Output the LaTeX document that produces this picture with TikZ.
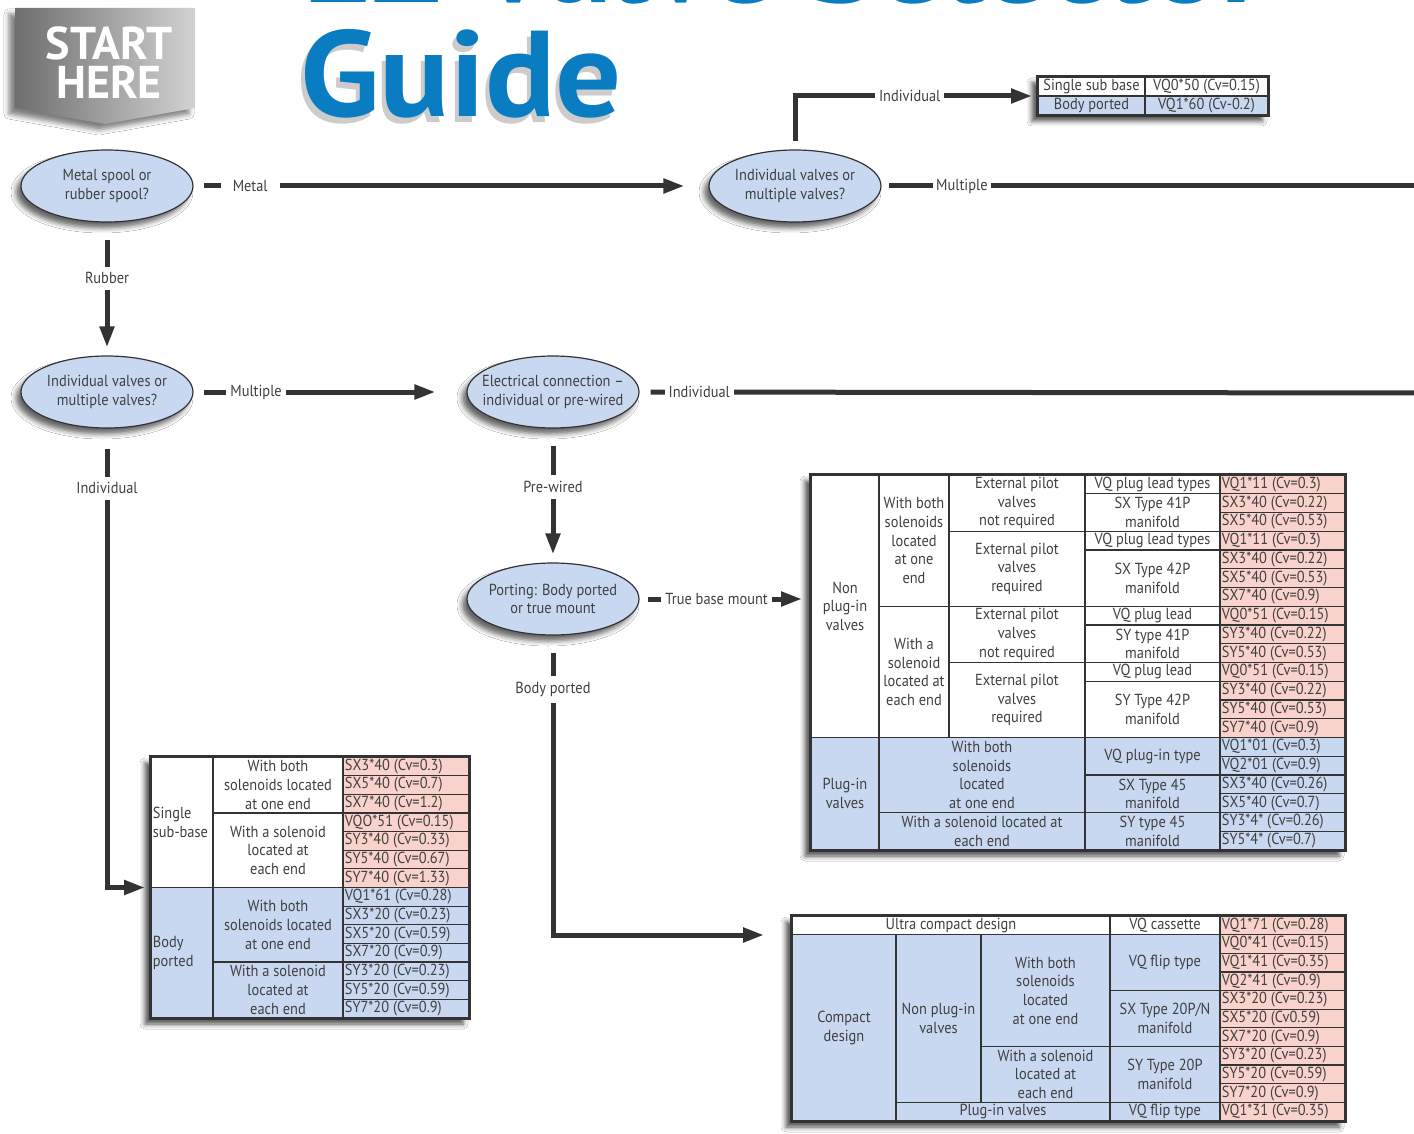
\documentclass[tikz,border=0pt]{standalone}
\usepackage{fontspec}
\setmainfont{PT Sans}[FakeStretch=0.9]
\newfontfamily\titlefont{PT Sans}[FakeStretch=1.07]
\newfontfamily\bannerfont{PT Sans}
\usetikzlibrary{shapes.geometric,shadows.blur,arrows.meta}
\definecolor{cblue}{HTML}{C8D8F0}
\definecolor{cpink}{HTML}{F9D3CB}
\definecolor{ink}{HTML}{333333}
\definecolor{txt}{HTML}{404040}
\definecolor{gblue}{HTML}{0A7CC2}
\definecolor{bnL}{HTML}{6E6E6E}
\definecolor{bnR}{HTML}{D2D2D2}
\newcommand{\tfont}{\fontsize{8}{9.35}\selectfont}
\newcounter{cellno}
\newcommand{\cellc}[6]{\stepcounter{cellno}\path[cellframe,fill=#5] (#1,#2) rectangle (#3,#4);\node[celltext] (cell\arabic{cellno}) at ({(#1+#3)/2},{(#2+#4)/2}) {#6};}
\newcommand{\celll}[6]{\stepcounter{cellno}\path[cellframe,fill=#5] (#1,#2) rectangle (#3,#4);\node[celltext,align=left,anchor=west] (cell\arabic{cellno}) at ({#1+1.5},{(#2+#4)/2}) {#6};}
\begin{document}
\begin{tikzpicture}[x=0.5pt,y=-0.5pt,
  line/.style={draw=ink,line width=2.5pt},
  arr/.style={line,-{Triangle[length=10.5pt,width=7pt]}},
  lbl/.style={fill=white,text=txt,font=\tfont,inner xsep=2pt,inner ysep=2pt},
  cellframe/.style={draw=ink,line width=0.6pt},
  celltext/.style={text=txt,font=\tfont,align=center,inner sep=0pt},
  tblbox/.style={draw=ink,line width=1pt,fill=white,inner sep=0pt,
    blur shadow={shadow xshift=-3pt,shadow yshift=-3pt,shadow blur radius=2.5pt,shadow opacity=70}},
  dec/.style={ellipse,draw=ink,line width=0.6pt,fill=cblue,minimum width=86pt,minimum height=36pt,
    inner sep=0pt,
    blur shadow={shadow xshift=-2.5pt,shadow yshift=-3pt,shadow blur radius=2.5pt,shadow opacity=60}},
  dectext/.style={align=center,text=txt,font=\tfont,inner sep=0pt},
  titletext/.style={anchor=base west,inner sep=0pt,font=\titlefont\bfseries\fontsize{61}{61}\selectfont},
  bannertext/.style={text=white,anchor=base,inner sep=0pt,font=\bannerfont\bfseries\fontsize{23}{23}\selectfont}]
\path[use as bounding box,fill=white] (0,0) rectangle (1414,1134);

% banner
\path[left color=bnL,right color=bnR,
  blur shadow={shadow xshift=-3pt,shadow yshift=-3pt,shadow blur radius=2.5pt,shadow opacity=50}]
  (15,8) -- (195,8) -- (195,108) -- (105,124) -- (15,108) -- cycle;
\node[bannertext] (start) at (109,60) {START};
\node[bannertext] (here) at (109,99) {HERE};

% title
\node[titletext,text=gblue] (title) at (303,3) {EZ Valve Selector};
\node[titletext,text=black,opacity=0.2] (guideshadow) at (296,123) {Guide};
\node[titletext,text=gblue] (guide) at (300,117) {Guide};

% decisions
\node[dec] (e1) at (107,186) {};
\node[dectext] (e1t) at (e1) {Metal spool or\\rubber spool?};
\node[dec] (e2) at (107,392) {};
\node[dectext] (e2t) at (e2) {Individual valves or\\multiple valves?};
\node[dec] (e3) at (795,186) {};
\node[dectext] (e3t) at (e3) {Individual valves or\\multiple valves?};
\node[dec] (e4) at (553,392) {};
\node[dectext] (e4t) at (e4) {Electrical connection --\\individual or pre-wired};
\node[dec] (e5) at (553,599) {};
\node[dectext] (e5t) at (e5) {Porting: Body ported\\or true mount};

% table boxes
\node[tblbox,minimum width=115pt,minimum height=19pt] (t1) at (1153,96) {};
\node[tblbox,minimum width=267pt,minimum height=187.5pt] (t2) at (1078,662.5) {};
\node[tblbox,minimum width=159pt,minimum height=130.5pt] (t3) at (310,887.5) {};
\node[tblbox,minimum width=276.5pt,minimum height=102.5pt] (t4) at (1068.5,1018.5) {};

% T1
\cellc{1038}{77}{1145}{96}{white}{Single sub base}
\cellc{1145}{77}{1268}{96}{white}{VQ0*50 (Cv=0.15)}
\cellc{1038}{96}{1145}{115}{cblue}{Body ported}
\cellc{1145}{96}{1268}{115}{cblue}{VQ1*60 (Cv-0.2)}

% T2
\cellc{811}{475}{879}{737.5}{white}{Non\\plug-in\\valves}
\cellc{811}{737.5}{879}{850}{cblue}{Plug-in\\valves}
\cellc{879}{475}{949}{606.25}{white}{With both\\solenoids\\located\\at one\\end}
\cellc{879}{606.25}{949}{737.5}{white}{With a\\solenoid\\located at\\each end}
\cellc{879}{737.5}{1085}{812.5}{cblue}{With both\\solenoids\\located\\at one end}
\cellc{879}{812.5}{1085}{850}{cblue}{With a solenoid located at\\each end}
\cellc{949}{475}{1085}{531.25}{white}{External pilot\\valves\\not required}
\cellc{949}{531.25}{1085}{606.25}{white}{External pilot\\valves\\required}
\cellc{949}{606.25}{1085}{662.5}{white}{External pilot\\valves\\not required}
\cellc{949}{662.5}{1085}{737.5}{white}{External pilot\\valves\\required}
\cellc{1085}{475}{1220}{493.75}{white}{VQ plug lead types}
\cellc{1085}{493.75}{1220}{531.25}{white}{SX Type 41P\\manifold}
\cellc{1085}{531.25}{1220}{550}{white}{VQ plug lead types}
\cellc{1085}{550}{1220}{606.25}{white}{SX Type 42P\\manifold}
\cellc{1085}{606.25}{1220}{625}{white}{VQ plug lead}
\cellc{1085}{625}{1220}{662.5}{white}{SY type 41P\\manifold}
\cellc{1085}{662.5}{1220}{681.25}{white}{VQ plug lead}
\cellc{1085}{681.25}{1220}{737.5}{white}{SY Type 42P\\manifold}
\cellc{1085}{737.5}{1220}{775}{cblue}{VQ plug-in type}
\cellc{1085}{775}{1220}{812.5}{cblue}{SX Type 45\\manifold}
\cellc{1085}{812.5}{1220}{850}{cblue}{SY type 45\\manifold}
\foreach \t [count=\i from 0] in {VQ1*11 (Cv=0.3),SX3*40 (Cv=0.22),SX5*40 (Cv=0.53),VQ1*11 (Cv=0.3),SX3*40 (Cv=0.22),SX5*40 (Cv=0.53),SX7*40 (Cv=0.9),VQ0*51 (Cv=0.15),SY3*40 (Cv=0.22),SY5*40 (Cv=0.53),VQ0*51 (Cv=0.15),SY3*40 (Cv=0.22),SY5*40 (Cv=0.53),SY7*40 (Cv=0.9),VQ1*01 (Cv=0.3),VQ2*01 (Cv=0.9),SX3*40 (Cv=0.26),SX5*40 (Cv=0.7),SY3*4* (Cv=0.26),SY5*4* (Cv=0.7)}{
  \pgfmathsetmacro\ya{475+18.75*\i}\pgfmathsetmacro\yb{\ya+18.75}
  \ifnum\i<14 \def\fc{cpink}\else\def\fc{cblue}\fi
  \celll{1220}{\ya}{1345}{\yb}{\fc}{\t}
}

% T3
\celll{151}{757}{213}{887.5}{white}{Single\\sub-base}
\celll{151}{887.5}{213}{1018}{cblue}{Body\\ported}
\cellc{213}{757}{343}{812.93}{white}{With both\\solenoids located\\at one end}
\cellc{213}{812.93}{343}{887.5}{white}{With a solenoid\\located at\\each end}
\cellc{213}{887.5}{343}{962.07}{cblue}{With both\\solenoids located\\at one end}
\cellc{213}{962.07}{343}{1018}{cblue}{With a solenoid\\located at\\each end}
\foreach \t [count=\i from 0] in {SX3*40 (Cv=0.3),SX5*40 (Cv=0.7),SX7*40 (Cv=1.2),VQO*51 (Cv=0.15),SY3*40 (Cv=0.33),SY5*40 (Cv=0.67),SY7*40 (Cv=1.33),VQ1*61 (Cv=0.28),SX3*20 (Cv=0.23),SX5*20 (Cv=0.59),SX7*20 (Cv=0.9),SY3*20 (Cv=0.23),SY5*20 (Cv=0.59),SY7*20 (Cv=0.9)}{
  \pgfmathsetmacro\ya{757+18.643*\i}\pgfmathsetmacro\yb{\ya+18.643}
  \ifnum\i<7 \def\fc{cpink}\else\def\fc{cblue}\fi
  \celll{343}{\ya}{469}{\yb}{\fc}{\t}
}

% T4
\cellc{792}{916}{1110}{934.64}{white}{Ultra compact design}
\cellc{1110}{916}{1220}{934.64}{white}{VQ cassette}
\cellc{792}{934.64}{896}{1121}{cblue}{Compact\\design}
\cellc{896}{934.64}{981}{1102.36}{cblue}{Non plug-in\\valves}
\cellc{981}{934.64}{1110}{1046.45}{cblue}{With both\\solenoids\\located\\at one end}
\cellc{981}{1046.45}{1110}{1102.36}{cblue}{With a solenoid\\located at\\each end}
\cellc{896}{1102.36}{1110}{1121}{cblue}{Plug-in valves}
\cellc{1110}{934.64}{1220}{990.55}{cblue}{VQ flip type}
\cellc{1110}{990.55}{1220}{1046.45}{cblue}{SX Type 20P/N\\manifold}
\cellc{1110}{1046.45}{1220}{1102.36}{cblue}{SY Type 20P\\manifold}
\cellc{1110}{1102.36}{1220}{1121}{cblue}{VQ flip type}
\foreach \t [count=\i from 0] in {VQ1*71 (Cv=0.28),VQ0*41 (Cv=0.15),VQ1*41 (Cv=0.35),VQ2*41 (Cv=0.9),SX3*20 (Cv=0.23),SX5*20 (Cv0.59),SX7*20 (Cv=0.9),SY3*20 (Cv=0.23),SY5*20 (Cv=0.59),SY7*20 (Cv=0.9),VQ1*31 (Cv=0.35)}{
  \pgfmathsetmacro\ya{916+18.636*\i}\pgfmathsetmacro\yb{\ya+18.636}
  \celll{1220}{\ya}{1345}{\yb}{cpink}{\t}
}

% outer borders
\foreach \tb in {t1,t2,t3,t4}{\draw[ink,line width=1pt] (\tb.north west) rectangle (\tb.south east);}

% connectors
\coordinate (offa) at (1424,186);
\coordinate (offb) at (1424,393);
\coordinate (t4in) at ([yshift=-10pt]t4.north west);
\draw[arr,shorten <=5pt,shorten >=12pt] (e1.east) -- node[lbl,pos=0.11,inner xsep=6pt] (lmetal) {Metal} (e3.west);
\draw[arr,shorten <=8.5pt,shorten >=4pt] (e1.south) -- node[lbl,pos=0.42,inner ysep=3pt] (lrubber) {Rubber} (e2.north);
\draw[arr,shorten <=4pt,shorten >=2.5pt] (e3.north) |- node[lbl,pos=0.737] (lind1) {Individual} (t1.west);
\draw[line,shorten <=3.5pt] (e3.east) -- node[lbl,pos=0.148,inner xsep=1.5pt] (lmult1) {Multiple} (offa);
\draw[arr,shorten <=5pt,shorten >=15.5pt] (e2.east) -- node[lbl,pos=0.229] (lmult2) {Multiple} (e4.west);
\draw[line,shorten <=5.5pt] (e4.east) -- node[lbl,pos=0.076] (lind2) {Individual} (offb);
\draw[arr,shorten <=10pt,shorten >=2.5pt] (e2.south) |- node[lbl,pos=0.065,inner ysep=3pt] (lind3) {Individual} (t3.west);
\draw[arr,shorten <=8.5pt,shorten >=4pt] (e4.south) -- node[lbl,pos=0.437,inner ysep=3pt] (lpre) {Pre-wired} (e5.north);
\draw[arr,shorten <=4pt,shorten >=4pt] (e5.east) -- node[lbl,pos=0.452] (ltrue) {True base mount} (e5.east -| t2.west);
\draw[arr,shorten <=8.5pt,shorten >=13.5pt] (e5.south) |- node[lbl,pos=0.09,inner ysep=3pt] (lbody) {Body ported} (t4in);
\end{tikzpicture}
\end{document}
